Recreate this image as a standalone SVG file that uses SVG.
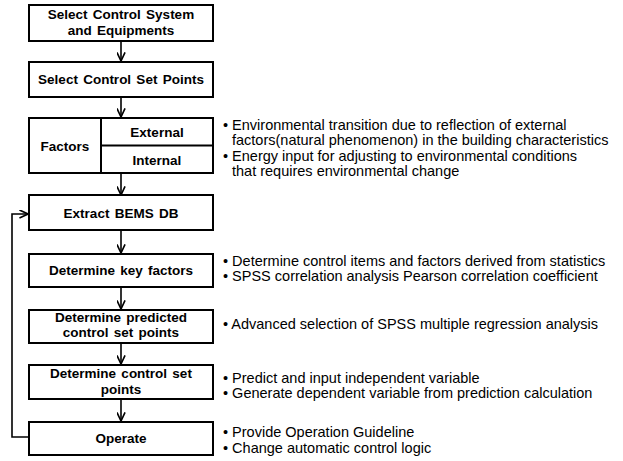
<svg xmlns="http://www.w3.org/2000/svg" width="623" height="461" viewBox="0 0 623 461">
<style>
.box{fill:#fff;stroke:#000;stroke-width:2}
.div{stroke:#000;stroke-width:2;fill:none}
.b{font-family:"Liberation Sans",Arial,sans-serif;font-weight:bold;font-size:13.5px;word-spacing:1.5px;text-anchor:middle;fill:#000}
.t{font-family:"Liberation Sans",Arial,sans-serif;font-size:14.5px;fill:#000}
.c{stroke:#000;stroke-width:1.6;fill:none}
</style>
<defs>
<marker id="ah" viewBox="0 0 10 10" refX="9.5" refY="5" markerWidth="9" markerHeight="9" markerUnits="userSpaceOnUse" orient="auto">
<path d="M0,0.5 L9.5,5 L0,9.5" fill="none" stroke="#000" stroke-width="1.8"/>
</marker>
</defs>
<g id="connectors">
<line class="c" x1="121" y1="41" x2="121" y2="61" marker-end="url(#ah)"/>
<line class="c" x1="121" y1="97" x2="121" y2="117" marker-end="url(#ah)"/>
<line class="c" x1="121" y1="173" x2="121" y2="195" marker-end="url(#ah)"/>
<line class="c" x1="121" y1="230" x2="121" y2="253" marker-end="url(#ah)"/>
<line class="c" x1="121" y1="287" x2="121" y2="309" marker-end="url(#ah)"/>
<line class="c" x1="121" y1="343" x2="121" y2="364" marker-end="url(#ah)"/>
<line class="c" x1="121" y1="399" x2="121" y2="421" marker-end="url(#ah)"/>
<polyline class="c" points="29,437 12,437 12,214 28,214" marker-end="url(#ah)"/>
</g>
<g id="n1">
<rect class="box" x="29" y="5" width="184" height="36"/>
<text class="b" x="121" y="19">Select Control System</text>
<text class="b" x="121" y="35">and Equipments</text>
</g>
<g id="n2">
<rect class="box" x="29" y="62" width="184" height="35"/>
<text class="b" x="121" y="84">Select Control Set Points</text>
</g>
<g id="n3">
<rect class="box" x="29" y="118" width="184" height="55"/>
<line class="div" x1="101" y1="118" x2="101" y2="173"/>
<line class="div" x1="101" y1="145.5" x2="213" y2="145.5"/>
<text class="b" x="65" y="151">Factors</text>
<text class="b" x="157" y="137">External</text>
<text class="b" x="157" y="165">Internal</text>
</g>
<g id="n4">
<rect class="box" x="29" y="195" width="184" height="35"/>
<text class="b" x="121" y="218">Extract BEMS DB</text>
</g>
<g id="n5">
<rect class="box" x="29" y="254" width="184" height="33"/>
<text class="b" x="121" y="275">Determine key factors</text>
</g>
<g id="n6">
<rect class="box" x="29" y="310" width="184" height="33"/>
<text class="b" x="121" y="322">Determine predicted</text>
<text class="b" x="121" y="337">control set points</text>
</g>
<g id="n7">
<rect class="box" x="29" y="365" width="184" height="34"/>
<text class="b" x="121" y="378">Determine control set</text>
<text class="b" x="121" y="394">points</text>
</g>
<g id="n8">
<rect class="box" x="29" y="422" width="184" height="33"/>
<text class="b" x="121" y="443">Operate</text>
</g>
<g id="notes">
<text class="t" x="223" y="130">• Environmental transition due to reflection of external</text>
<text class="t" x="232" y="145">factors(natural phenomenon) in the building characteristics</text>
<text class="t" x="223" y="161">• Energy input for adjusting to environmental conditions</text>
<text class="t" x="232" y="176">that requires environmental change</text>
<text class="t" x="223" y="266">• Determine control items and factors derived from statistics</text>
<text class="t" x="223" y="281">• SPSS correlation analysis Pearson correlation coefficient</text>
<text class="t" x="223" y="329">• Advanced selection of SPSS multiple regression analysis</text>
<text class="t" x="223" y="383">• Predict and input independent variable</text>
<text class="t" x="223" y="398">• Generate dependent variable from prediction calculation</text>
<text class="t" x="223" y="437">• Provide Operation Guideline</text>
<text class="t" x="223" y="453">• Change automatic control logic</text>
</g>
</svg>
